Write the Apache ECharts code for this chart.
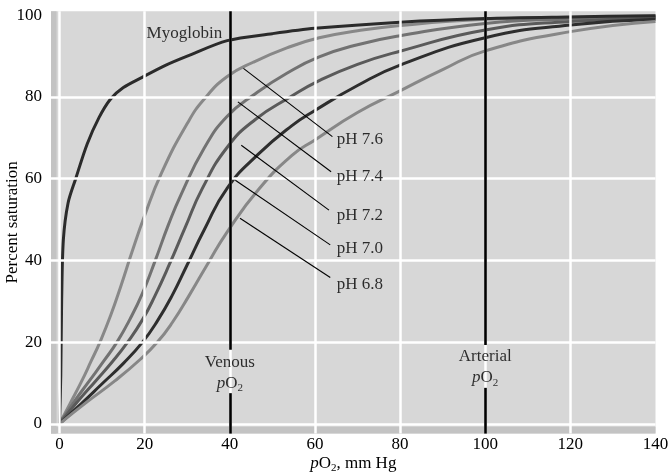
<!DOCTYPE html>
<html><head><meta charset="utf-8">
<script src="https://cdn.jsdelivr.net/npm/echarts@6/dist/echarts.min.js"></script>
<style>html,body{margin:0;padding:0;background:#fff}#c{width:670px;height:474px}</style>
</head><body><div id="c"></div>
<script>
// ---- data ----
const xTicks = [0, 20, 40, 60, 80, 100, 120, 140];
const yTicks = [0, 20, 40, 60, 80, 100];

const myoX = [0, 0.3, 0.5, 0.9, 2, 3.8, 6.5, 9.3, 12, 15, 19.4, 25, 30, 39.4, 50, 60, 80, 100, 120, 140];
const myoY = [0, 12, 30, 45, 54, 60, 68.5, 75, 79.5, 82.3, 84.8, 87.8, 90, 93.8, 95.5, 96.8, 98.3, 99.2, 99.6, 99.9];

const ph76X = [0, 2.5, 5, 7.5, 9.5, 12, 14.5, 17, 20, 24, 30, 34, 39.4, 45.5, 53.4, 61, 70, 80, 100, 120, 140];
const ph76Y = [0, 5, 10, 15.5, 20, 26.5, 34, 42, 51, 61.5, 73.5, 79.5, 85, 88.5, 92, 94.5, 96.2, 97.5, 99, 99.5, 99.8];

const ph74X = [0, 3.5, 7, 10.5, 13.5, 16.5, 19.5, 22.5, 25.5, 28.5, 34, 39.4, 46, 53.4, 61, 70, 80, 100, 120, 140];
const ph74Y = [0, 5.5, 10.5, 15.5, 20, 25.5, 32, 40, 48.5, 56, 67.5, 75.3, 80.8, 85.8, 89.8, 92.8, 95, 98, 99.1, 99.6];

const ph72X = [0, 4.3, 8.5, 12.5, 16, 19.5, 22.5, 25.8, 29.5, 33.5, 39.4, 46, 54.2, 61, 70, 80, 100, 120, 140];
const ph72Y = [0, 5.5, 10.5, 15.3, 20, 25.5, 31.5, 39, 48, 57.5, 67.7, 74.5, 80, 84, 88, 91.2, 96.4, 98.5, 99.3];

const ph70X = [0, 5.2, 10, 15, 19.5, 23, 26.5, 29.8, 34, 39.4, 46.7, 54.6, 60, 70, 80, 100, 120, 140];
const ph70Y = [0, 5, 9.8, 14.8, 20, 25.2, 31.5, 38.5, 47.5, 57.7, 66, 73, 76.7, 82.8, 87.8, 94.5, 97.6, 99];

const ph68X = [0, 6.4, 13, 19, 23, 26.5, 30.5, 35, 39.4, 46.7, 54.6, 60, 70, 80, 90, 100, 120, 140];
const ph68Y = [0, 5.3, 10.5, 15.8, 20, 24.8, 31.5, 39.5, 47, 57.3, 65.7, 69.5, 76.2, 81.5, 86.7, 91.3, 96, 98.5];

const venousPO2 = 40;
const arterialPO2 = 100;
const curveNames = ['Myoglobin', 'pH 7.6', 'pH 7.4', 'pH 7.2', 'pH 7.0', 'pH 6.8'];

// ---- annotation geometry (layout, in axis units) ----
const venousGap = [18.1, 7.5];
const arterialGap = [19.3, 8.8];
const leaderStart = [[43.2, 87.0], [41.9, 78.8], [42.7, 68.2], [41.3, 59.6], [42.4, 50.3]];
const leaderEnd = [[64.1, 70.3], [63.8, 61.7], [63.3, 52.3], [63.6, 43.8], [63.6, 35.8]];
const phLabelPos = [[65.1, 69.5], [65.1, 60.5], [65.1, 51.1], [65.1, 43.0], [65.1, 34.0]];
const myoLabelPos = [38.2, 95.6];
const venousLabelPos = [40, 12.5];
const arterialLabelPos = [100, 13.8];

// ---- build ----
const SERIF = '"Liberation Serif", "Times New Roman", serif';
const TXT = '#000000';
const XMIN = -2, XMAX = 140, YMIN = -2.4, YMAX = 101;
const zip = (xs, ys) => xs.map((x, i) => [x, ys[i]]);
const curveData = [zip(myoX, myoY), zip(ph76X, ph76Y), zip(ph74X, ph74Y), zip(ph72X, ph72Y), zip(ph70X, ph70Y), zip(ph68X, ph68Y)];
const curveColors = ['#2b2b2b', '#888888', '#727272', '#5a5a5a', '#2e2e2e', '#878787'];

const rich = {
  i: { fontFamily: SERIF, fontStyle: 'italic', fontSize: 17, color: TXT, lineHeight: 21 },
  s: { fontFamily: SERIF, fontSize: 11, color: TXT, lineHeight: 21, verticalAlign: 'bottom', padding: [0, 0, 0, 0] }
};

const series = [];
// background band
series.push({
  type: 'line', data: [], z: 0, silent: true,
  markArea: {
    silent: true, itemStyle: { color: '#c3c3c3' },
    data: [[{ xAxis: XMIN }, { xAxis: -0.7 }], [{ yAxis: YMIN }, { yAxis: -0.7 }]]
  }
});
// white grid lines
series.push({
  type: 'line', data: [], z: 1, silent: true,
  markLine: {
    silent: true, symbol: 'none', label: { show: false },
    lineStyle: { color: '#ffffff', width: 2.5, type: 'solid' },
    data: xTicks.filter(v => v < XMAX).map(v => ({ xAxis: v }))
      .concat(yTicks.filter(v => v < 100).map(v => ({ yAxis: v })))
  }
});
// curves
curveData.forEach((d, k) => {
  series.push({
    name: curveNames[k], type: 'line', data: d, z: k === 0 ? 4 : 3,
    showSymbol: false, smooth: k === 0 ? 0.3 : 0.5, silent: true,
    lineStyle: { color: curveColors[k], width: 3 }
  });
});
// venous & arterial lines
const vline = (x, gap) => [
  [{ coord: [x, YMAX] }, { coord: [x, gap[0]] }],
  [{ coord: [x, gap[1]] }, { coord: [x, YMIN] }]
];
series.push({
  type: 'line', data: [], z: 6, silent: true,
  markLine: {
    silent: true, symbol: 'none', label: { show: false },
    lineStyle: { color: '#000', width: 2.6, type: 'solid' },
    data: vline(venousPO2, venousGap).concat(vline(arterialPO2, arterialGap))
  }
});
// leader lines
series.push({
  type: 'line', data: [], z: 7, silent: true,
  markLine: {
    silent: true, symbol: 'none', label: { show: false },
    lineStyle: { color: '#000', width: 1.1, type: 'solid' },
    data: leaderStart.map((p, i) => [{ coord: p }, { coord: leaderEnd[i] }])
  }
});
// pH labels
series.push({
  type: 'scatter', symbolSize: 0, z: 8, silent: true,
  data: phLabelPos.map((p, i) => ({ value: p, name: curveNames[i + 1] })),
  label: { show: true, position: 'right', distance: 0, formatter: p => p.name,
    fontFamily: SERIF, fontSize: 17, color: TXT }
});
// Myoglobin label
series.push({
  type: 'scatter', symbolSize: 0, z: 8, silent: true,
  data: [{ value: myoLabelPos, name: curveNames[0] }],
  label: { show: true, position: 'left', distance: 0, formatter: p => p.name,
    fontFamily: SERIF, fontSize: 17, color: TXT }
});
// Venous / Arterial labels
series.push({
  type: 'scatter', symbolSize: 0, z: 8, silent: true,
  data: [{ value: venousLabelPos, name: 'Venous' }, { value: arterialLabelPos, name: 'Arterial' }],
  label: { show: true, position: 'inside', formatter: p => p.name + '\n{i|p}O{s|2}',
    fontFamily: SERIF, fontSize: 17, color: TXT, lineHeight: 21, align: 'center', rich: rich }
});

const chart = echarts.init(document.getElementById('c'));
chart.setOption({
  animation: false,
  backgroundColor: '#ffffff',
  grid: { left: 51, right: 14.5, top: 11.2, bottom: 40.4, show: true, backgroundColor: '#d7d7d7', borderWidth: 0,
          containLabel: false, outerBoundsMode: 'none' },
  xAxis: {
    type: 'value', min: XMIN, max: XMAX,
    name: '{i|p}O{s|2}, mm Hg', nameLocation: 'middle', nameGap: 19, nameMoveOverlap: false,
    nameTextStyle: { fontFamily: SERIF, fontSize: 17, color: TXT, lineHeight: 21, rich: rich },
    axisLine: { show: false }, axisTick: { show: false }, splitLine: { show: false },
    axisLabel: { customValues: xTicks, fontFamily: SERIF, fontSize: 17, color: TXT, margin: 2 }
  },
  yAxis: {
    type: 'value', min: YMIN, max: YMAX,
    name: 'Percent saturation', nameLocation: 'middle', nameGap: 30, nameRotate: 90, nameMoveOverlap: false,
    nameTextStyle: { fontFamily: SERIF, fontSize: 17, color: TXT },
    axisLine: { show: false }, axisTick: { show: false }, splitLine: { show: false },
    axisLabel: { customValues: yTicks, fontFamily: SERIF, fontSize: 17, color: TXT, margin: 9 }
  },
  series: series
});
</script>
</body></html>
